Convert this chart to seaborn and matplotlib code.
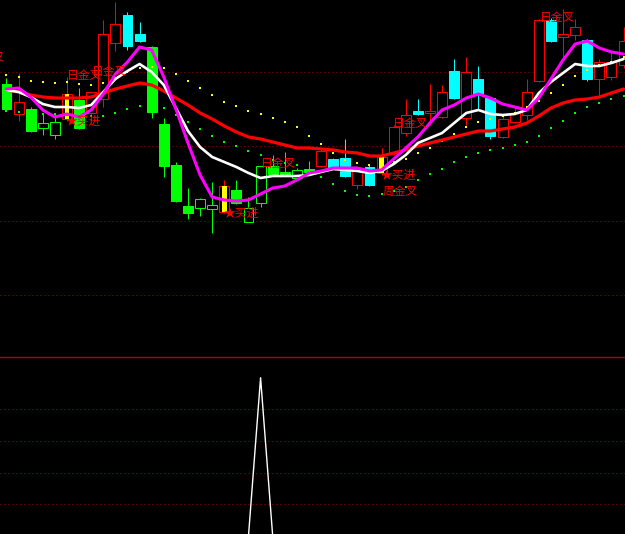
import matplotlib
matplotlib.use('Agg')
import matplotlib.pyplot as plt
import numpy as np
import pandas as pd
import seaborn as sns

# daily candles (price units)
opens = [27.6, 24.6, 25.1, 23.2, 22.5, 24.1, 26.0, 24.7, 26.1, 31.7,
         34.5, 32.6, 31.3, 23.6, 19.5, 15.4, 15.2, 15.1, 14.8, 17.0,
         13.8, 15.7, 19.4, 18.8, 18.2, 19.1, 19.4, 20.1, 20.2, 17.5,
         19.3, 18.7, 20.7, 22.7, 24.9, 24.7, 24.3, 28.9, 24.2, 28.1,
         26.2, 22.3, 23.8, 24.5, 27.9, 34.0, 32.3, 32.5, 32.0, 28.1,
         28.3, 29.5]
highs = [28.2, 28.7, 25.3, 24.6, 24.7, 28.3, 27.2, 26.9, 34.0, 35.8,
         34.8, 33.8, 31.4, 24.2, 19.8, 17.2, 16.2, 17.8, 18.0, 18.0,
         16.3, 19.4, 20.5, 20.8, 19.2, 19.9, 21.1, 20.2, 22.1, 19.2,
         19.5, 21.2, 23.5, 26.1, 26.1, 27.6, 27.5, 30.1, 30.3, 29.4,
         26.3, 24.4, 25.3, 28.1, 34.1, 34.2, 35.1, 34.1, 32.1, 30.1,
         30.9, 33.3]
lows = [25.0, 23.9, 22.8, 22.5, 22.1, 23.9, 23.1, 23.8, 25.3, 30.9,
        31.0, 31.8, 24.2, 18.3, 15.8, 14.1, 14.4, 12.7, 14.7, 15.6,
        13.8, 15.3, 18.5, 18.4, 18.1, 18.7, 19.3, 19.1, 18.3, 17.1,
        17.4, 18.5, 20.5, 22.4, 24.5, 23.5, 24.2, 26.1, 23.5, 25.0,
        22.1, 22.2, 23.7, 24.0, 27.8, 31.8, 30.3, 32.0, 27.9, 26.5,
        28.0, 29.2]
closes = [25.1, 25.8, 22.9, 23.7, 23.8, 26.6, 23.2, 26.8, 32.6, 33.6,
          31.4, 31.9, 24.8, 19.4, 15.9, 14.7, 16.1, 15.5, 17.4, 15.7,
          15.2, 19.4, 18.6, 18.5, 19.0, 18.8, 20.9, 19.2, 18.4, 18.9,
          17.5, 20.3, 23.3, 24.5, 24.6, 24.9, 26.8, 26.2, 28.8, 26.6,
          22.4, 24.1, 24.7, 26.8, 34.0, 31.9, 32.6, 33.3, 28.1, 29.8,
          29.8, 31.9]
# 1 = weak zone (candles painted green)
weak = [1, 0, 1, 1, 1, 0, 1, 0, 0, 0,
        0, 0, 1, 1, 1, 1, 1, 1, 0, 1,
        1, 1, 1, 1, 1, 1, 0, 0, 0, 0,
        0, 0, 0, 0, 0, 0, 0, 0, 0, 0,
        0, 0, 0, 0, 0, 0, 0, 0, 0, 0,
        0, 0]

ma_fast = [27.1, 27.2, 26.3, 25.0, 24.3, 24.6, 24.3, 25.0, 26.6, 28.6,
           29.8, 31.3, 31.0, 28.3, 25.1, 21.7, 18.5, 16.3, 16.0, 15.9,
           16.0, 16.6, 17.2, 17.4, 18.0, 18.7, 18.9, 19.2, 19.2, 19.2,
           18.9, 19.0, 20.1, 21.2, 22.3, 23.7, 25.0, 25.5, 26.2, 26.6,
           26.2, 25.6, 25.3, 25.0, 26.2, 28.1, 30.0, 31.6, 31.9, 31.2,
           30.8, 30.6]
ma_mid = [27.0, 26.8, 26.3, 25.6, 25.3, 25.3, 25.2, 25.5, 26.8, 28.1,
          28.9, 29.6, 28.8, 27.5, 25.2, 22.9, 21.3, 20.3, 19.8, 19.3,
          18.7, 18.2, 18.4, 18.4, 18.4, 18.5, 18.8, 19.1, 19.0, 18.9,
          18.7, 18.9, 19.6, 20.5, 21.7, 22.2, 22.7, 23.7, 24.7, 25.0,
          24.6, 24.5, 24.6, 25.0, 26.7, 27.8, 28.7, 29.6, 29.4, 29.4,
          29.7, 30.1]
ma_slow = [27.0, 26.8, 26.5, 26.3, 26.2, 26.2, 26.2, 26.3, 26.7, 27.1,
           27.4, 27.7, 27.5, 26.9, 26.2, 25.5, 24.7, 24.1, 23.4, 22.8,
           22.3, 22.1, 21.8, 21.5, 21.2, 21.2, 21.1, 21.0, 20.8, 20.7,
           20.4, 20.4, 20.7, 21.0, 21.4, 21.7, 22.0, 22.3, 22.6, 22.9,
           22.9, 23.1, 23.3, 23.7, 24.4, 25.2, 25.7, 26.0, 26.1, 26.3,
           26.7, 27.1]
dots_yellow = [28.5, 28.3, 27.9, 27.8, 27.7, 27.8, 27.6, 27.5, 27.7, 28.2,
               28.8, 29.2, 29.3, 29.2, 28.6, 27.9, 27.2, 26.5, 25.8, 25.4,
               24.9, 24.6, 24.2, 23.8, 23.3, 22.4, 21.6, 20.7, 20.0, 19.7,
               19.5, 19.5, 19.8, 20.1, 20.7, 21.2, 21.9, 22.6, 23.3, 23.8,
               24.1, 24.4, 24.7, 25.3, 25.9, 26.7, 27.5, 28.4, 29.0, 29.5,
               29.8, 30.3]
dots_green = [24.9, 24.8, 24.7, 24.6, 24.6, 24.5, 24.4, 24.4, 24.4, 24.7,
              25.1, 25.4, 25.5, 25.2, 24.5, 23.8, 23.1, 22.4, 21.8, 21.4,
              20.9, 20.5, 20.0, 19.7, 19.5, 19.0, 18.3, 17.6, 16.9, 16.5,
              16.4, 16.6, 16.9, 17.3, 18.0, 18.6, 19.1, 19.8, 20.3, 20.7,
              21.0, 21.2, 21.5, 21.8, 22.4, 23.2, 23.9, 24.7, 25.3, 25.7,
              26.1, 26.4]

buy_bars = [5, 18, 31]
day_cross = [(-3.0, 30.2), (5.0, 28.5), (7.1, 28.8), (21.0, 19.7),
             (31.9, 23.7), (44.1, 34.3)]
week_cross = [(31.1, 16.9)]

# lower panel indicator
signal = [0, 0, 0, 0, 0, 0, 0, 0, 0, 0,
          0, 0, 0, 0, 0, 0, 0, 0, 0, 0,
          0, 100, 0, 0, 0, 0, 0, 0, 0, 0,
          0, 0, 0, 0, 0, 0, 0, 0, 0, 0,
          0, 0, 0, 0, 0, 0, 0, 0, 0, 0,
          0, 0]
top_grid = [28.8, 21.4, 13.9, 6.5]
bottom_grid = [20, 40, 60, 80]


def draw_candles(ax, df):
    px = 0.72  # one pixel in points
    ax.vlines(df['bar'], df['low'], df['high'], colors=df['color'],
              linewidth=px, zorder=2)
    for _, r in df.iterrows():
        lo = min(r['open'], r['close'])
        h = max(abs(r['close'] - r['open']), 0.08)
        face = r['color'] if r['filled'] else 'black'
        ax.bar(r['bar'], h, bottom=lo, width=0.82, color=face,
               edgecolor=r['color'], linewidth=px, zorder=3)


def main():
    sns.set_theme(style='dark', rc={'axes.facecolor': 'black',
                                    'figure.facecolor': 'black'})
    plt.rcParams['font.family'] = ['Noto Sans CJK SC', 'DejaVu Sans']

    n = len(opens)
    df = pd.DataFrame({'bar': np.arange(n), 'open': opens, 'high': highs,
                       'low': lows, 'close': closes, 'weak': weak,
                       'fast': ma_fast, 'mid': ma_mid, 'slow': ma_slow,
                       'yellow': dots_yellow, 'green': dots_green,
                       'signal': signal})
    up = df['close'] >= df['open']
    df['color'] = np.where(df['weak'] == 1, '#00ff00',
                           np.where(up, '#ff0000', '#00ffff'))
    df['filled'] = ~up

    fig = plt.figure(figsize=(6.25, 5.34), dpi=100)
    ax = fig.add_axes([0, 177 / 534, 1, 357 / 534])
    ax2 = fig.add_axes([0, 0, 1, 177 / 534])
    xlim = (-0.537, 51.12)

    for y in top_grid:
        ax.axhline(y, color='#b00000', lw=0.72, ls=(0, (1, 3)), zorder=1)
    draw_candles(ax, df)

    # buy signal bars: yellow strip inside the body
    for b in buy_bars:
        lo = min(opens[b], closes[b])
        ax.bar(b, abs(closes[b] - opens[b]), bottom=lo, width=0.41,
               color='#ffff00', linewidth=0, zorder=4)

    sns.scatterplot(data=df, x='bar', y='yellow', ax=ax, color='#ffff00',
                    marker='s', s=3, linewidth=0, zorder=4)
    sns.scatterplot(data=df, x='bar', y='green', ax=ax, color='#00ff00',
                    marker='s', s=3, linewidth=0, zorder=4)
    sns.lineplot(data=df, x='bar', y='slow', ax=ax, color='#ff0000',
                 lw=2.3, zorder=5)
    sns.lineplot(data=df, x='bar', y='mid', ax=ax, color='white',
                 lw=1.9, zorder=5)
    sns.lineplot(data=df, x='bar', y='fast', ax=ax, color='#ff00ff',
                 lw=2.2, zorder=5)

    for x, y in day_cross:
        ax.text(x, y, '日金叉', color='#ff0000', fontsize=8.5,
                ha='left', va='center', zorder=6)
    for x, y in week_cross:
        ax.text(x, y, '周金叉', color='#ff0000', fontsize=8.5,
                ha='left', va='center', zorder=6)
    for b in buy_bars:
        ax.text(b - 0.1, lows[b], '★买进', color='#ff0000', fontsize=8.5,
                ha='left', va='center', zorder=6)

    ax.set_xlim(*xlim)
    ax.set_ylim(0.3, 36.0)

    # lower panel
    for y in bottom_grid:
        ax2.axhline(y, color='#b00000', lw=0.72, ls=(0, (1, 3)), zorder=1)
    sns.lineplot(data=df, x='bar', y='signal', ax=ax2, color='white',
                 lw=1.0, zorder=3)
    ax2.set_xlim(*xlim)
    ax2.set_ylim(1.2, 113.1)

    for a in (ax, ax2):
        a.set_xticks([])
        a.set_yticks([])
        a.set_xlabel('')
        a.set_ylabel('')
        a.grid(False)
        for s in a.spines.values():
            s.set_visible(False)
    ax2.spines['top'].set_visible(True)
    ax2.spines['top'].set_color('#b00000')
    ax2.spines['top'].set_linewidth(1.0)

    fig.savefig('out.png', dpi=100, facecolor='black')


if __name__ == '__main__':
    main()
